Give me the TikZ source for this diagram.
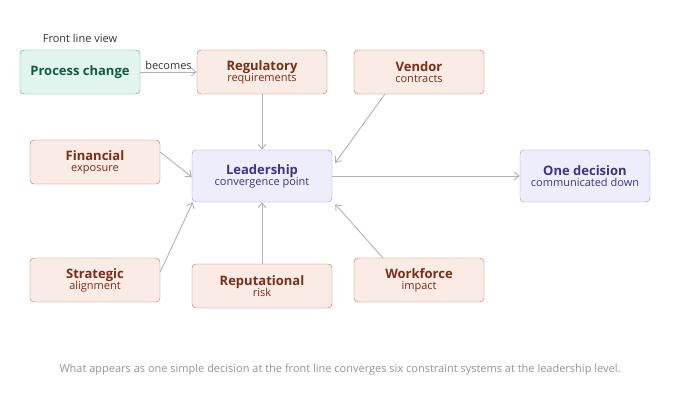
\documentclass[tikz,border=0pt]{standalone}
\usepackage{fontspec}
\setmainfont{Open Sans}
\usetikzlibrary{arrows.meta}
\definecolor{rimred}{HTML}{B5725A}
\definecolor{fillred}{HTML}{FAEBE4}
\definecolor{txtred}{HTML}{7A2E17}
\definecolor{rimgreen}{HTML}{4FA88A}
\definecolor{fillgreen}{HTML}{E1F5EE}
\definecolor{txtgreen}{HTML}{0E5A43}
\definecolor{rimblue}{HTML}{9A93DA}
\definecolor{fillblue}{HTML}{EEEDFC}
\definecolor{txtblue}{HTML}{3C3489}
\tikzset{
  box/.style={rectangle, rounded corners=4pt, minimum height=44pt, align=center, inner sep=0pt},
  cons/.style={box, draw=rimred, fill=fillred, text=txtred, minimum width=130pt},
  lead/.style={box, draw=rimblue, fill=fillblue, text=txtblue, minimum height=52pt},
  link/.style={draw=gray!60, line width=0.9pt, -{Straight Barb[length=5pt,width=8pt]}},
}
\newcommand{\twoline}[2]{{\fontsize{13}{15}\selectfont\bfseries #1}\\[-1pt]{\fontsize{11}{13}\selectfont #2}}
\begin{document}
\begin{tikzpicture}[x=1pt,y=-1pt]
\useasboundingbox (0,0) rectangle (680,420);
\node[font=\fontsize{11}{13}\selectfont, text=black!80] (flv) at (80,38) {Front line view};
\node[box, draw=rimgreen, fill=fillgreen, text=txtgreen, minimum width=120pt, font=\fontsize{13}{15}\selectfont\bfseries] (proc) at (80,72) {Process change};
\node[cons] (reg) at (262,72) {\twoline{Regulatory}{requirements}};
\node[cons] (vend) at (419,72) {\twoline{Vendor}{contracts}};
\node[cons] (fin) at (95,162) {\twoline{Financial}{exposure}};
\node[lead, minimum width=140pt] (lead) at (262,176) {\twoline{Leadership}{convergence point}};
\node[lead, minimum width=130pt] (one) at (585,176) {\twoline{One decision}{communicated down}};
\node[cons] (strat) at (95,280) {\twoline{Strategic}{alignment}};
\node[cons, minimum width=140pt] (rep) at (262,286) {\twoline{Reputational}{risk}};
\node[cons] (work) at (419,280) {\twoline{Workforce}{impact}};
\node[font=\fontsize{11}{13}\selectfont, text=gray!85] (cap) at (340,370) {What appears as one simple decision at the front line converges six constraint systems at the leadership level.};

\draw[link] (proc.east) -- node[above, font=\fontsize{11}{13}\selectfont, text=black!80, inner sep=2pt] {becomes} (reg.west);
\draw[link] (reg.south) -- (lead.north);
\draw[link] ([xshift=31pt]vend.south west) -- ([xshift=3pt,yshift=13pt]lead.east);
\draw[link] ([yshift=10pt]fin.east) -- ([yshift=-1pt]lead.west);
\draw[link] ([yshift=8pt]strat.east) -- ([xshift=1pt]lead.south west);
\draw[link] (rep.north) -- (lead.south);
\draw[link] ([xshift=29pt]work.north west) -- ([xshift=3pt,yshift=-2pt]lead.south east);
\draw[link] (lead.east) -- (one.west);
\end{tikzpicture}
\end{document}
